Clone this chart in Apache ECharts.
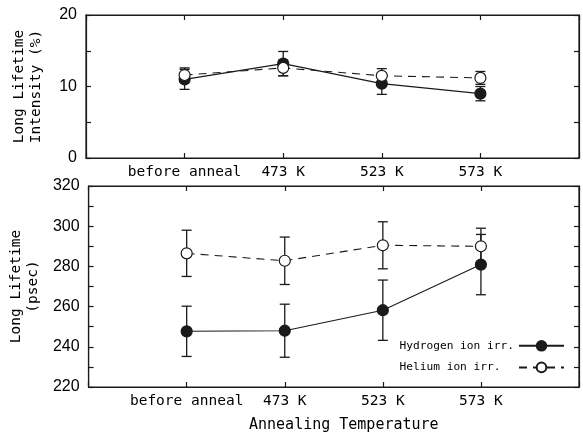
<!DOCTYPE html>
<html><head><meta charset="utf-8">
<script src="https://cdn.jsdelivr.net/npm/echarts@6/dist/echarts.min.js"></script>
<style>html,body{margin:0;padding:0;background:#fff}#c{width:583px;height:434px}</style>
</head><body><div id="c"></div>
<script>
const categories = ['before anneal', '473 K', '523 K', '573 K'];
// Top panel: Long Lifetime Intensity (%)
const h2Intensity = [11.0, 13.2, 10.4, 9.0];
const h2IntensityErr = [1.4, 1.7, 1.5, 1.0];
const heIntensity = [11.6, 12.6, 11.5, 11.2];
const heIntensityErr = [1.0, 1.1, 1.0, 0.9];
// Bottom panel: Long Lifetime (psec)
const h2Lifetime = [247.7, 248.0, 258.2, 280.9];
const h2LifetimeErr = [12.5, 13.2, 15.0, 15.0];
const heLifetime = [286.5, 282.8, 290.5, 290.0];
const heLifetimeErr = [11.5, 11.8, 11.7, 9.0];
const topTickLabels = [0, 10, 20];
const bottomTickLabels = [220, 240, 260, 280, 300, 320];
const seriesNames = ['Hydrogen ion irr.', 'Helium ion irr.'];

const padCats = [''].concat(categories, ['']);
const monoFont = '"DejaVu Sans Mono", "Liberation Mono", monospace';
const numFont = '"Liberation Sans", Arial, sans-serif';
const ink = '#1a1a1a';

function pairs(vals) { return vals.map((v, i) => [categories[i], v]); }
function errs(vals, e) { return vals.map((v, i) => [categories[i], v - e[i], v + e[i]]); }

function errSeries(name, vals, e, xi, yi) {
  return {
    type: 'custom', name: name + ' err', xAxisIndex: xi, yAxisIndex: yi, z: 1,
    data: errs(vals, e),
    renderItem: function (params, api) {
      const x = api.value(0);
      const lo = api.coord([x, api.value(1)]);
      const hi = api.coord([x, api.value(2)]);
      const w = 5;
      const st = { stroke: ink, lineWidth: 1.3 };
      return { type: 'group', children: [
        { type: 'line', shape: { x1: lo[0], y1: lo[1], x2: hi[0], y2: hi[1] }, style: st },
        { type: 'line', shape: { x1: lo[0] - w, y1: lo[1], x2: lo[0] + w, y2: lo[1] }, style: st },
        { type: 'line', shape: { x1: hi[0] - w, y1: hi[1], x2: hi[0] + w, y2: hi[1] }, style: st }
      ] };
    }
  };
}
function lineSeries(name, vals, xi, yi, filled) {
  return {
    type: 'line', name: name, xAxisIndex: xi, yAxisIndex: yi, z: 3,
    data: pairs(vals), symbol: 'circle', symbolSize: 11, showSymbol: true,
    lineStyle: { color: ink, width: 1.1, type: filled ? 'solid' : [8, 6] },
    itemStyle: { color: filled ? ink : '#fff', borderColor: ink, borderWidth: 1.2 },
    emphasis: { disabled: true }, animation: false
  };
}

function xAxes(grid, labels, name) {
  const common = {
    type: 'category', data: padCats, boundaryGap: false, gridIndex: grid,
    axisLine: { show: true, onZero: false, lineStyle: { color: ink, width: 1.2 } },
    axisTick: { show: true, inside: true, length: 5, interval: 0, lineStyle: { color: ink, width: 1.2 } },
    splitLine: { show: false }
  };
  return [
    Object.assign({}, common, {
      position: 'bottom',
      axisLabel: { show: labels, interval: 0, margin: 7, color: '#000', fontFamily: monoFont, fontSize: 14.5 },
      name: name || '', nameLocation: 'middle', nameGap: 31,
      nameTextStyle: { color: '#000', fontFamily: monoFont, fontSize: 15, padding: [0, 0, 0, 20] }
    }),
    Object.assign({}, common, { position: 'top', axisLabel: { show: false } })
  ];
}
function yAxes(grid, min, max, interval, tickLabels, name) {
  const common = {
    type: 'value', gridIndex: grid, min: min, max: max, interval: interval,
    axisLine: { show: true, onZero: false, lineStyle: { color: ink, width: 1.2 } },
    axisTick: { show: true, inside: true, length: 5, lineStyle: { color: ink, width: 1.2 } },
    splitLine: { show: false }
  };
  return [
    Object.assign({}, common, {
      position: 'left',
      axisLabel: { show: true, margin: 9, color: '#000', fontFamily: numFont, fontSize: 16,
        formatter: v => tickLabels.indexOf(v) >= 0 ? String(v) : '' },
      name: name, nameLocation: 'middle', nameGap: 41, nameRotate: 90,
      nameTextStyle: { color: '#000', fontFamily: monoFont, fontSize: 14.5, lineHeight: 17 }
    }),
    Object.assign({}, common, { position: 'right', axisLabel: { show: false } })
  ];
}

const chart = echarts.init(document.getElementById('c'), null, { renderer: 'canvas' });
chart.setOption({
  animation: false,
  backgroundColor: '#fff',
  grid: [
    { left: 86, right: 4, top: 15, height: 143, show: true, borderColor: ink, borderWidth: 1.2, backgroundColor: 'transparent' },
    { left: 86, right: 4, top: 186, height: 201, show: true, borderColor: ink, borderWidth: 1.2, backgroundColor: 'transparent' }
  ],
  xAxis: xAxes(0, true, '').concat(xAxes(1, true, 'Annealing Temperature')),
  yAxis: yAxes(0, topTickLabels[0], topTickLabels[topTickLabels.length - 1], 5, topTickLabels, 'Long Lifetime\nIntensity (%)')
    .concat(yAxes(1, bottomTickLabels[0], bottomTickLabels[bottomTickLabels.length - 1], 10, bottomTickLabels, 'Long Lifetime\n(psec)')),
  legend: {
    orient: 'vertical', right: 18, top: 340, align: 'right',
    itemWidth: 45, itemHeight: 12, itemGap: 10, padding: 0,
    data: seriesNames,
    formatter: n => n.padEnd(17, ' '),
    textStyle: { color: '#000', fontFamily: monoFont, fontSize: 11.2 },
    selectedMode: false
  },
  series: [
    errSeries(seriesNames[0], h2Intensity, h2IntensityErr, 0, 0),
    errSeries(seriesNames[1], heIntensity, heIntensityErr, 0, 0),
    lineSeries(seriesNames[0], h2Intensity, 0, 0, true),
    lineSeries(seriesNames[1], heIntensity, 0, 0, false),
    errSeries(seriesNames[0], h2Lifetime, h2LifetimeErr, 2, 2),
    errSeries(seriesNames[1], heLifetime, heLifetimeErr, 2, 2),
    lineSeries(seriesNames[0], h2Lifetime, 2, 2, true),
    lineSeries(seriesNames[1], heLifetime, 2, 2, false)
  ]
});
</script></body></html>
